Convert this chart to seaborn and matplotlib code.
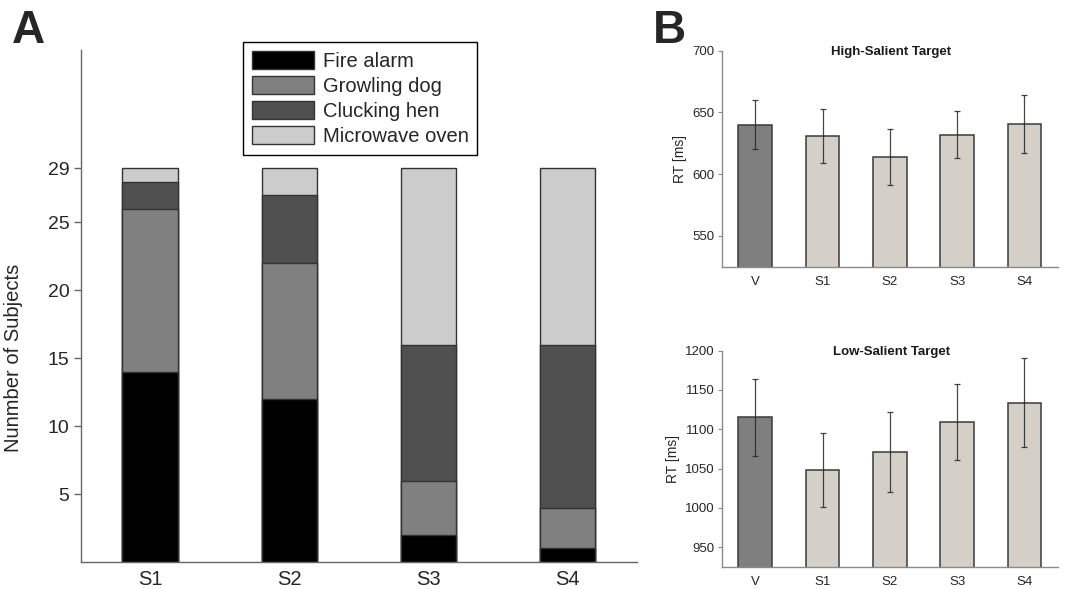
import matplotlib
matplotlib.use("Agg")
import matplotlib.pyplot as plt
import seaborn as sns
import pandas as pd
import numpy as np

# ---------------- data ----------------
sessions = ["S1", "S2", "S3", "S4"]
sound_names = ["Fire alarm", "Growling dog", "Clucking hen", "Microwave oven"]
fire_alarm = [14, 12, 2, 1]
growling_dog = [12, 10, 4, 3]
clucking_hen = [2, 5, 10, 12]
microwave_oven = [1, 2, 13, 13]
a_yticks = [5, 10, 15, 20, 25, 29]

conditions = ["V", "S1", "S2", "S3", "S4"]
high_rt = [640, 631, 614, 632, 641]
high_err = [20, 22, 22.5, 19, 23.5]
low_rt = [1115, 1048, 1071, 1109, 1134]
low_err = [49, 47, 51.5, 48.5, 56.5]
high_yticks = [550, 600, 650, 700]
low_yticks = [950, 1000, 1050, 1100, 1150, 1200]

# ---------------- style ----------------
sns.set_style("white")
plt.rcParams["font.family"] = ["Liberation Sans", "DejaVu Sans"]

sound_colors = ["#000000", "#808080", "#505050", "#cccccc"]
cond_colors = ["#7f7f7f", "#d4d0c8", "#d4d0c8", "#d4d0c8", "#d4d0c8"]

fig = plt.figure(figsize=(10.68, 5.89), dpi=100)
axA = fig.add_axes([0.07556, 0.04584, 0.5209, 0.8693])
axH = fig.add_axes([0.6757, 0.5472, 0.3149, 0.3667])
axL = fig.add_axes([0.6757, 0.03786, 0.3149, 0.3667])

# ---------------- panel A: stacked bars ----------------
layers = [fire_alarm, growling_dog, clucking_hen, microwave_oven]
cum = np.cumsum(np.array(layers), axis=0)
dfA = pd.DataFrame({"session": sessions})
handles = {}
for i in range(len(layers) - 1, -1, -1):
    dfA["top"] = cum[i]
    sns.barplot(data=dfA, x="session", y="top", color=sound_colors[i],
                saturation=1, width=0.4, edgecolor="#333333", linewidth=1.0,
                ax=axA, errorbar=None)
    handles[i] = axA.containers[-1]

axA.set_xlim(-0.5, 3.5)
axA.set_ylim(0, 37.7)
axA.set_yticks(a_yticks)
axA.set_xlabel("")
axA.set_ylabel("Nunmber of Subjects", fontsize=14.5)
axA.yaxis.set_label_coords(-0.104, 0.398)
sns.despine(ax=axA)
for s in ["left", "bottom"]:
    axA.spines[s].set_color("#666666")
    axA.spines[s].set_linewidth(1.0)
axA.tick_params(axis="y", length=5, width=1, color="#666666", labelsize=14, pad=3,
                direction="out", left=True)
axA.tick_params(axis="x", length=0, labelsize=14.5, pad=6)

leg = axA.legend([handles[i] for i in range(4)], sound_names,
                 loc="upper left", bbox_to_anchor=(243 / 1068, 1 - 42 / 589),
                 bbox_transform=fig.transFigure, fontsize=14.5,
                 handlelength=3.1, handleheight=1.0, handletextpad=0.4,
                 labelspacing=0.25, borderpad=0.45, borderaxespad=0,
                 fancybox=False, framealpha=1, edgecolor="black")
leg.get_frame().set_linewidth(1.0)

# ---------------- panel B ----------------
def rt_panel(ax, vals, errs, yticks, ylim, title):
    df = pd.DataFrame({"cond": conditions, "rt": vals})
    sns.barplot(data=df, x="cond", y="rt", hue="cond", palette=cond_colors,
                saturation=1, width=0.5, edgecolor="#3a3a3a", linewidth=1.1,
                legend=False, errorbar=None, ax=ax)
    xs = [p.get_x() + p.get_width() / 2 for p in ax.patches]
    ax.errorbar(xs, vals, yerr=errs, fmt="none", ecolor="#262626",
                elinewidth=0.9, capsize=2.5, capthick=0.9, alpha=0.85)
    ax.set_xlim(-0.5, 4.5)
    ax.set_ylim(*ylim)
    ax.set_yticks(yticks)
    ax.set_xlabel("")
    ax.set_ylabel("RT [ms]", fontsize=10, color="#262626")
    sns.despine(ax=ax)
    for s in ["left", "bottom"]:
        ax.spines[s].set_color("#8a8a8a")
        ax.spines[s].set_linewidth(1.0)
    ax.tick_params(axis="y", length=3, width=0.8, color="#8a8a8a", labelsize=9.5,
                   pad=2, left=True, labelcolor="#262626")
    ax.tick_params(axis="x", length=0, labelsize=9.5, pad=7, labelcolor="#262626")
    ax.text(0.505, 0.994, title, transform=ax.transAxes, ha="center", va="center",
            fontsize=9.5, fontweight="bold", color="#1a1a1a")

rt_panel(axH, high_rt, high_err, high_yticks, (525, 700), "High-Salient Target")
rt_panel(axL, low_rt, low_err, low_yticks, (925, 1200), "Low-Salient Target")

# panel letters
fig.text(12 / 1068, 1 - 43 / 589, "A", fontsize=33, fontweight="bold",
         ha="left", va="baseline")
fig.text(653 / 1068, 1 - 43 / 589, "B", fontsize=33, fontweight="bold",
         ha="left", va="baseline")

fig.savefig("out.png", dpi=100)
